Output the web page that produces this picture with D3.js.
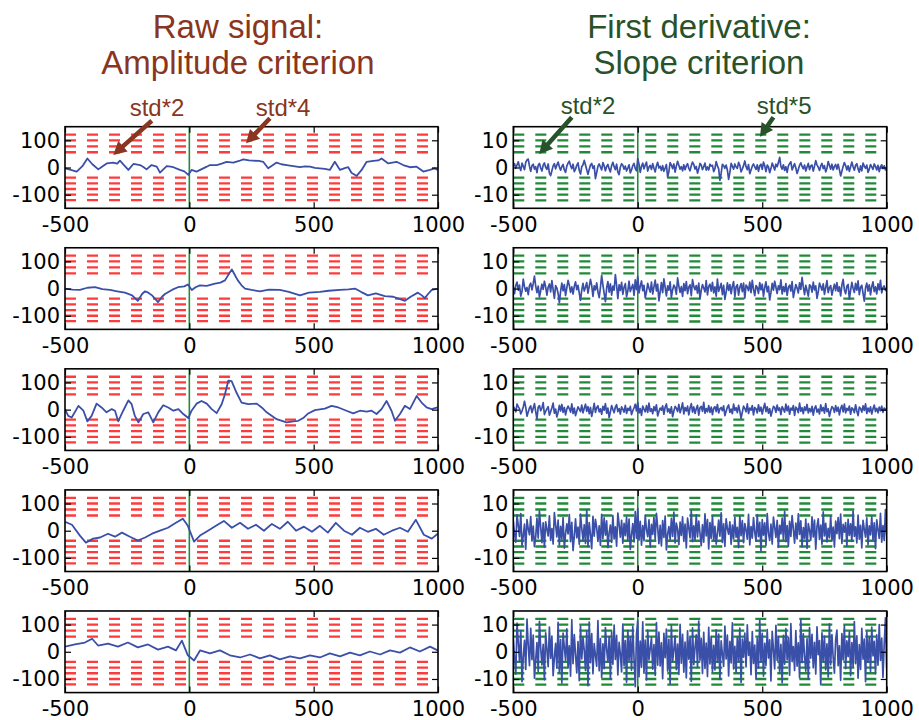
<!DOCTYPE html>
<html><head><meta charset="utf-8">
<script src="https://cdn.jsdelivr.net/npm/d3@7"></script>
<style>body{margin:0;background:#fff}</style>
</head><body><svg id="c" width="919" height="720"></svg>
<script>
// ---------- data ----------
const xTicks = [-500, 0, 500, 1000];
const yTicksRaw = [-100, 0, 100];
const yTicksDer = [-10, 0, 10];
const rawThrUp = [56, 78, 100, 121];
const rawThrDown = [-37, -58, -79, -100, -120];
const derThrUp = [5.6, 7.8, 10, 12.1];
const derThrDown = [-3.7, -5.8, -7.9, -10, -12.1];
const titlesLeft = ["Raw signal:", "Amplitude criterion"];
const titlesRight = ["First derivative:", "Slope criterion"];
const derStart = -500, derStep = 5;

// raw signals [time, value]
const L1 = [[-500,-3],[-480,-8],[-453,-15],[-430,5],[-410,33],[-390,12],[-366,-7],[-350,4],[-332,15],[-306,18],[-290,14],[-279,25],[-262,8],[-245,-9],[-225,13],[-198,9],[-185,2],[-172,-7],[-152,9],[-131,3],[-118,-19],[-91,5],[-75,3],[-64,1],[-38,-9],[-20,-14],[-4,-27],[9,-9],[29,-15],[56,-3],[70,3],[83,9],[110,9],[130,14],[150,21],[177,18],[200,24],[217,30],[240,26],[257,25],[280,24],[297,21],[317,-3],[335,8],[351,18],[370,12],[391,9],[418,5],[445,1],[465,4],[485,3],[505,-1],[525,-3],[545,-5],[565,-9],[585,21],[606,-9],[625,-2],[639,1],[652,-19],[673,-31],[693,-9],[713,21],[740,24],[760,26],[773,33],[800,15],[833,21],[860,9],[887,1],[914,3],[941,-15],[967,-9],[987,-3],[998,-9]];
const L2 = [[-500,0],[-470,-4],[-440,-5],[-410,3],[-379,5],[-350,-2],[-319,-5],[-290,-10],[-259,-15],[-230,-25],[-207,-45],[-190,-20],[-178,-10],[-165,-15],[-150,-25],[-126,-50],[-110,-30],[-98,-20],[-70,-5],[-46,5],[-20,8],[-6,15],[10,-5],[25,5],[43,12],[70,10],[103,18],[125,22],[143,30],[160,55],[171,70],[183,50],[195,30],[210,12],[224,0],[250,-5],[284,-10],[320,-4],[364,-5],[400,-12],[445,-25],[480,-15],[525,-12],[560,-8],[606,-5],[640,-3],[666,0],[690,-12],[718,-25],[750,-18],[786,-28],[820,-30],[845,-38],[867,-45],[890,-30],[919,-15],[935,-25],[947,-35],[960,-20],[975,-5],[999,0]];
const L3 = [[-500,2],[-487,-23],[-473,-29],[-446,14],[-426,-4],[-410,-43],[-393,-23],[-373,22],[-353,8],[-333,-10],[-312,2],[-299,-4],[-286,-43],[-266,-4],[-245,34],[-232,20],[-219,-23],[-205,-47],[-185,-16],[-165,-10],[-145,-47],[-125,-10],[-105,16],[-85,8],[-64,-4],[-44,2],[-27,-14],[-4,-31],[9,-4],[29,22],[49,32],[70,22],[90,2],[110,-13],[130,20],[143,56],[157,107],[170,105],[190,62],[210,26],[237,20],[271,22],[291,8],[311,-10],[351,-35],[391,-47],[418,-43],[438,-41],[458,-31],[478,-14],[505,-2],[545,4],[572,14],[599,8],[632,-4],[659,-14],[686,-4],[713,-7],[733,-4],[753,-16],[773,2],[793,32],[813,-4],[827,-41],[847,-16],[867,14],[887,2],[914,50],[934,26],[954,8],[974,2],[998,8]];
const L4 = [[-500,33],[-472,22],[-440,-18],[-416,-44],[-387,-29],[-359,-25],[-327,-11],[-299,-22],[-271,-7],[-239,-22],[-207,-36],[-178,-25],[-150,-11],[-118,0],[-86,11],[-54,29],[-26,44],[-6,18],[19,-40],[43,-18],[75,0],[107,18],[139,36],[171,11],[204,29],[236,7],[268,22],[300,0],[332,25],[364,7],[396,33],[429,0],[461,15],[493,-4],[525,18],[557,-7],[589,29],[622,0],[654,-15],[686,11],[718,-4],[750,7],[782,-15],[815,0],[847,11],[879,-4],[911,40],[943,-15],[975,-29],[999,-11]];
const L5 = [[-500,19],[-460,27],[-420,34],[-391,48],[-367,23],[-327,30],[-287,19],[-247,34],[-207,16],[-166,27],[-126,8],[-86,19],[-54,5],[-30,41],[-6,-13],[19,-32],[43,5],[83,-6],[123,5],[163,-13],[204,-21],[244,-10],[284,-24],[324,-13],[364,-28],[405,-17],[445,-24],[485,-13],[525,-21],[565,-6],[606,-17],[646,-3],[686,-13],[726,1],[767,-10],[807,5],[847,-3],[887,16],[927,1],[968,19],[999,5]];

// first derivative signals, sampled every derStep from derStart
const R1 = [
0.6,1.4,-0.3,0.9,2.1,0.2,-1.1,1.6,0.4,-0.8,1.9,2.8,3.1,0.5,-1.4,0.7,1.2,-0.6,0.3,-1.9,
0.8,1.5,-0.2,-1.3,0.9,1.7,0.1,-0.7,1.3,-2.1,-3.0,-1.2,0.6,1.4,-0.5,0.9,2.0,0.3,-1.0,0.4,
1.1,-0.9,-1.8,0.5,1.6,2.3,0.7,-0.4,1.2,-1.5,-0.6,0.8,1.7,-1.1,-2.4,0.3,1.0,2.6,0.9,-0.8,
-2.5,-0.7,0.9,1.5,-0.3,0.6,-4.1,-1.9,0.4,1.3,0.2,-0.9,1.8,0.6,-1.2,0.4,1.1,-0.5,-1.6,0.7,
1.9,0.3,-0.8,1.2,-1.7,-2.6,0.1,1.4,0.8,-0.6,0.5,-1.3,-0.2,1.0,-2.0,-0.9,0.7,1.5,-0.4,-1.2,
3.3,1.2,-1.8,0.4,1.6,-0.5,0.9,2.0,-1.3,0.2,0.8,-0.7,1.4,-0.3,-1.6,0.6,1.9,-0.2,0.5,-1.1,
0.7,-1.4,-0.2,1.1,-3.6,-1.5,1.8,0.9,-0.4,1.3,-1.7,0.5,2.3,0.8,-0.6,0.3,-1.2,1.0,-0.8,0.6,
1.4,-0.3,-1.2,0.7,2.0,1.1,-0.6,0.4,-2.1,-0.5,1.5,0.9,-0.8,0.3,1.6,-1.0,0.2,-0.9,1.2,0.5,
0.8,-1.5,-0.4,2.2,0.6,-0.5,-4.7,-2.2,1.2,0.7,-0.3,0.9,-1.0,-4.4,-1.8,1.5,0.4,-0.6,1.3,0.2,
-0.3,1.9,0.8,-1.6,-0.5,0.7,2.4,0.3,-0.8,1.1,-2.3,-0.9,0.5,1.3,0.2,-0.7,1.0,-1.4,0.6,1.2,
-0.7,2.0,0.6,-1.5,0.9,0.2,-1.9,-0.4,1.6,0.5,-0.9,1.2,0.3,1.8,3.7,0.4,-0.6,1.0,-1.1,0.3,
-1.8,0.6,1.4,2.1,-0.9,0.3,1.4,-0.2,-2.2,-0.7,0.8,1.7,0.4,-0.5,0.9,-1.3,0.2,1.5,-0.8,0.6,
0.9,-1.3,0.5,2.5,1.0,0.1,-1.1,0.6,1.5,-0.4,0.7,-1.6,-0.3,2.2,0.8,-0.6,1.2,-0.9,0.4,1.1,
-0.6,1.2,-0.8,-3.1,-1.4,0.4,1.8,0.7,-0.9,0.6,-1.4,0.3,2.0,0.3,-1.0,0.8,1.4,-0.5,-1.7,0.6,
-1.2,1.6,0.5,-0.3,0.9,-1.8,-0.6,1.1,0.2,-0.7,1.3,0.4,-0.9,0.8,-1.5,0.3,1.0,-0.4,0.6,-0.9,
-0.5];
const R2 = [
0.8,-1.9,1.2,2.4,-0.6,1.3,-2.8,-1.0,3.5,0.7,-1.0,0.4,-2.2,1.1,2.0,-0.5,1.8,4.6,0.9,-1.5,
0.9,-3.1,-0.8,1.6,-0.3,2.7,0.6,-2.4,0.5,1.7,-1.2,2.9,-0.4,-3.6,1.1,0.2,-1.8,-5.2,-1.0,2.0,
-0.8,1.5,-2.6,0.3,3.0,1.2,-1.4,0.6,-2.0,0.8,2.5,-0.4,1.2,-1.7,-4.3,-0.6,1.9,-0.9,0.5,2.2,
-1.7,0.8,3.4,1.1,-2.9,1.0,-0.5,2.1,-1.2,-3.3,0.4,4.9,1.3,-1.8,-4.8,0.2,2.6,-1.3,1.7,-2.4,
0.9,-0.6,5.1,1.2,-3.7,1.4,-0.7,2.3,-2.1,0.5,1.8,-3.0,-0.9,2.7,-1.1,0.3,1.5,-2.5,3.2,-0.4,
4.5,-1.6,0.9,2.8,-0.8,1.2,-3.4,-1.1,1.9,0.1,-1.3,2.4,-2.0,0.6,3.1,-0.9,1.6,-4.5,-1.2,2.2,
-1.5,3.6,0.4,-2.7,1.0,-0.6,2.5,-3.2,-0.5,1.3,0.4,-2.1,3.9,0.9,-1.4,0.7,-2.9,1.8,-0.8,2.6,
-1.9,0.5,1.4,-2.6,3.3,0.8,-0.4,1.1,-1.7,2.0,-3.8,-0.6,1.5,0.2,-1.2,2.9,-2.3,0.8,1.6,-0.9,
2.3,-1.6,0.6,-2.8,3.5,-1.0,0.4,1.9,-2.2,1.2,-4.0,-1.3,2.1,-0.7,1.5,-1.9,0.9,2.6,-3.1,0.7,
1.4,-2.4,0.5,1.8,-1.1,2.0,-3.5,1.3,0.6,-0.8,2.4,-1.5,3.0,-0.3,-2.6,1.1,0.4,-1.8,2.2,-0.5,
1.6,-2.9,0.3,2.5,-1.2,0.8,-4.2,-1.4,1.9,-0.6,2.7,0.5,-1.8,1.0,-0.4,3.2,-2.0,0.7,-1.1,1.8,
-2.5,0.4,1.3,-0.9,2.6,-3.3,-0.8,1.5,0.2,-1.6,2.1,-0.3,4.1,0.6,-2.2,1.2,-0.7,-2.8,1.4,0.9,
-1.3,2.4,-0.5,1.0,-3.6,-1.2,2.0,0.8,-0.6,1.7,-2.1,0.4,2.9,-1.5,0.3,1.1,-2.4,-0.2,1.6,-0.8,
2.2,-1.0,0.6,-2.7,1.3,3.4,-0.4,-1.9,0.9,1.5,-3.9,-0.7,2.3,0.1,-1.4,1.9,-0.6,2.8,-2.2,0.5,
1.2,-1.8,-4.6,0.3,2.0,-0.9,1.4,-2.3,0.7,2.5,-1.1,0.6,-2.0,1.7,-0.5,3.0,-1.6,0.4,1.0,-0.7,
0.3];
const R3 = [
1.2,0.4,-0.8,2.0,1.1,0.3,-1.6,-0.5,1.0,3.1,0.8,-2.4,-0.9,0.6,1.4,-1.1,0.5,2.2,-0.7,-3.5,
0.9,1.5,-0.4,0.6,2.6,-1.8,-0.6,0.3,1.1,-2.0,-0.8,0.7,2.4,-1.3,0.2,-2.7,-0.9,1.6,-0.5,1.9,
-1.0,0.8,-1.9,0.2,1.3,0.4,-0.9,2.1,-1.4,0.6,-2.2,-0.6,1.0,0.2,-0.7,1.7,-1.2,0.5,2.0,-0.6,
1.1,-1.5,0.8,-2.5,-0.3,2.3,-1.0,0.7,1.4,-0.8,0.3,-1.7,1.2,-0.2,2.2,-1.3,0.6,-2.9,-0.8,1.5,
0.1,-1.1,0.9,1.8,-0.7,0.4,-1.6,1.0,0.2,-0.9,1.6,-1.4,0.5,-0.3,1.2,-1.8,-0.4,0.7,2.0,-0.5,
2.6,-1.2,0.4,-2.1,1.3,0.2,-0.8,1.5,-1.0,2.4,-0.6,0.3,-1.5,1.1,-0.4,1.8,-2.3,-0.7,0.6,-0.2,
1.4,-1.7,0.9,2.1,-0.8,0.3,-1.3,1.0,-2.6,-0.5,1.2,0.5,-0.7,1.9,-1.1,0.4,2.5,-1.6,0.8,-0.5,
1.3,-1.9,0.6,2.2,-0.9,1.0,-1.4,0.3,1.6,-2.0,0.7,1.2,-0.6,2.7,-1.3,0.4,-0.8,1.5,-1.0,0.9,
-1.8,0.5,1.1,-0.7,1.9,-1.2,0.3,0.8,-0.4,1.4,-2.2,-0.6,0.9,1.7,-1.0,0.2,-1.5,2.0,-0.3,0.7,
-1.1,1.6,-0.5,-3.2,-0.9,1.3,0.4,-0.8,2.1,-1.4,0.6,-0.2,1.5,-1.9,0.8,0.3,-1.2,1.8,-0.6,0.9,
-1.6,0.5,2.3,-0.7,1.0,-1.3,0.4,-2.4,-0.5,1.2,0.8,-1.0,1.7,-0.3,0.6,-1.8,1.1,0.2,-0.9,2.0,
-0.4,1.3,-1.7,0.6,-0.2,1.5,-2.1,0.9,0.3,-1.1,2.4,-0.6,0.7,-1.5,1.0,-0.3,1.9,-1.2,0.4,-0.8,
1.2,-2.0,0.5,1.4,-0.9,0.2,-1.6,1.8,-0.5,0.8,-1.3,2.2,-0.7,0.3,-2.5,-0.4,1.1,0.6,-1.0,1.5,
-0.6,0.9,-1.9,0.4,1.6,-0.8,2.0,-1.2,0.5,-0.3,1.3,-1.7,0.7,0.2,-1.1,1.8,-0.5,-2.2,0.9,0.4,
-0.9,1.4,-0.3,2.1,-1.4,0.6,-0.8,1.0,-1.6,0.3,1.7,-0.7,0.5,-1.2,0.9,-0.4,1.3,-1.0,0.6,-0.2,
0.5];
const R4 = [
3.5,-1.2,-4.2,5.8,2.0,-2.1,6.3,-5.5,-1.8,2.4,-6.8,4.1,0.7,-1.5,5.2,-3.8,1.7,-5.9,-2.3,4.6,
-2.7,7.2,1.4,-4.4,2.9,-6.1,3.3,0.5,-1.9,5.5,-3.6,0.8,-4.9,6.7,2.2,-2.3,3.9,-5.2,1.6,-3.1,
4.8,-6.4,-1.1,2.5,-1.2,5.9,-4.0,3.1,-7.3,-2.0,4.4,-2.6,1.3,-5.0,6.1,0.9,-3.4,2.2,-4.7,7.6,
-5.8,3.0,-1.4,-6.6,5.3,-2.0,4.2,1.1,-3.9,1.8,-5.4,6.0,-2.9,4.7,-1.6,3.6,-6.2,-0.8,2.1,-4.3,
5.6,-3.0,1.4,-5.7,6.5,2.3,-2.4,3.8,-4.6,2.7,-1.8,5.0,-3.5,4.3,-6.9,-1.5,2.6,-4.1,7.0,-2.8,
8.2,-3.5,3.4,-5.3,1.9,-3.7,5.7,0.4,-2.2,4.0,-6.0,2.3,-1.4,4.9,-3.2,6.4,1.2,-4.8,2.0,-5.6,
3.7,-2.5,5.4,-7.1,-1.3,1.5,-3.3,4.5,-2.1,6.8,-4.5,2.8,0.6,-5.1,3.2,-1.7,5.1,-3.9,2.4,-6.3,
4.6,1.0,-2.6,7.4,-4.0,1.8,-3.4,5.8,-2.3,3.5,-0.9,-5.5,2.2,-4.2,6.2,-1.9,4.1,-6.7,3.0,-2.8,
5.5,-3.6,1.6,-4.9,-1.0,3.9,-2.0,6.6,-4.3,2.5,-5.8,4.4,0.8,-1.3,3.3,-5.0,2.1,-3.0,4.9,-2.4,
1.2,-6.2,5.3,-1.8,3.7,-4.4,2.6,0.3,-3.1,6.0,-5.2,1.5,-2.7,4.8,-0.6,-3.8,5.9,-2.2,3.1,-7.4,
4.1,-1.6,2.9,-5.3,6.3,-0.9,-3.6,2.4,-4.9,5.0,1.3,-2.5,3.8,-6.1,2.0,-1.2,4.6,-3.3,7.1,-4.0,
1.9,-5.7,3.4,-2.1,5.6,0.7,-4.6,2.8,-3.0,6.2,-1.4,3.6,-5.9,1.1,-2.8,4.3,-6.5,2.6,0.2,-3.5,
5.1,-2.3,3.9,-6.8,1.6,4.4,-3.2,2.1,-5.0,6.9,-1.9,2.7,-4.1,0.9,-2.6,5.4,-3.7,1.3,-6.0,3.5,
-1.1,4.8,-2.9,6.1,-4.7,2.3,-0.5,3.0,-5.6,4.2,-1.7,2.5,-3.9,7.3,-2.1,1.4,-4.5,5.7,-3.1,2.0,
-6.3,3.8,0.6,-2.4,4.7,-5.1,1.8,-1.5,5.2,-3.4,2.9,-6.6,4.0,0.4,-2.8,6.4,-4.2,1.9,-3.6,7.8,
-2.0];
const R5 = [
5.0,-2.1,-8.2,10.5,3.4,-3.6,7.8,-11.0,-1.9,4.2,-6.5,12.0,2.3,-5.1,8.6,-2.9,6.1,-9.7,-3.0,3.4,
-7.2,11.2,1.5,-4.8,2.7,-10.3,7.0,0.9,-5.5,9.1,-2.4,5.8,-8.8,-2.2,3.1,-6.0,10.8,-7.6,4.5,-11.5,
6.9,1.7,-3.2,8.4,-5.9,2.2,-9.0,11.8,-4.4,6.3,-1.0,-7.8,3.7,-10.6,9.5,-2.6,5.2,0.6,-6.9,7.6,
-12.5,10.9,-4.0,6.7,-8.1,3.0,-1.4,-5.3,11.5,-7.0,4.8,-9.4,2.9,-6.2,8.9,1.0,-3.8,5.6,-10.0,7.3,
-4.6,9.8,-2.8,6.0,-8.5,3.5,-0.8,-7.4,10.2,-5.0,4.1,-11.2,7.9,-3.3,5.4,-6.8,9.3,-2.5,-12.8,6.6,
11.5,-9.2,3.9,-5.7,11.0,-7.9,4.3,-10.4,8.0,-3.0,1.2,5.1,-6.4,2.6,-8.7,10.7,-4.9,7.2,-5.2,3.3,
-9.9,6.8,-2.2,8.3,-7.1,4.6,-11.8,9.6,-3.5,0.7,5.9,-6.6,2.8,-8.3,10.1,-4.2,6.4,-7.5,3.6,-9.6,
7.7,-2.7,5.3,-10.9,8.8,-4.7,1.5,6.2,-5.8,11.3,-3.1,4.9,-8.0,7.1,-6.1,3.2,-9.1,9.0,-4.5,5.7,
-7.3,2.4,-6.7,8.1,-3.9,6.5,-10.2,4.0,-0.9,-5.4,9.4,-2.6,6.1,-8.9,3.8,-4.1,10.6,-6.3,2.0,-7.7,
5.5,-3.4,8.7,-11.3,4.7,-2.0,6.9,-5.6,9.9,-1.3,3.6,-8.4,7.4,-4.3,2.5,-9.8,5.0,-6.0,11.6,-3.7,
6.8,-9.0,3.1,-5.0,8.2,-2.3,4.4,-10.7,7.5,0.8,-6.3,9.7,-3.2,5.6,-7.6,2.7,-11.4,6.0,-4.6,8.5,
-2.9,5.2,-8.6,10.4,-3.6,1.9,-6.9,7.8,-5.3,3.3,-9.5,11.9,-4.0,6.6,-1.6,-7.1,4.8,-10.1,8.9,-2.4,
6.4,-5.9,3.5,-8.2,9.2,-1.1,4.1,-12.1,7.0,-3.4,5.8,-6.7,2.9,-9.3,10.3,-4.8,6.3,-2.1,-7.9,4.5,
8.0,-5.1,2.2,-10.5,6.7,-3.0,9.6,-6.2,4.0,-1.8,7.3,-8.8,3.4,-5.5,11.1,-4.4,5.9,-9.7,2.6,-6.5,
8.6,-2.7,4.7,-11.0,7.4,-3.9,5.4,-7.2,9.1,-1.5,3.8,-8.1,6.2,-4.9,10.0,-3.2,5.0,-9.4,2.8,12.5,
-6.0];

const rawSignals = [L1, L2, L3, L4, L5];
const derSignals = [R1, R2, R3, R4, R5];

// annotations: [label, textX, textY, tailX, tailY, tipX, tipY] in data units of top panels
const annRaw = [["std*2", -130, 189, -151, 172, -306, 46], ["std*4", 377, 189, 324, 181, 228, 89]];
const annDer = [["std*2", -200, 19.5, -265, 18.5, -396, 5.0], ["std*5", 588, 19.5, 545, 18.5, 491, 11.3]];

// ---------- style ----------
const C = {
  brown: "#8a3520", green: "#28522a", red: "#ff3a3a", dgreen: "#218a3a",
  zero: "#22883a", sig: "#3a4fa8"
};
const layout = { top0: 126.7, rowStep: 121.07, h: 81.6, left: [65, 438], right: [513.3, 886.7] };

const svg = d3.select("#c");
const fmt = d => String(d);

function panel(r, col) {
  const top = layout.top0 + r * layout.rowStep;
  const xr = col === 0 ? layout.left : layout.right;
  const x = d3.scaleLinear([-500, 1000], xr);
  const y = d3.scaleLinear(col === 0 ? [-150, 150] : [-15, 15], [top + layout.h, top]);
  const g = svg.append("g");
  const up = col === 0 ? rawThrUp : derThrUp;
  const dn = col === 0 ? rawThrDown : derThrDown;
  const dcol = col === 0 ? C.red : C.dgreen;
  g.selectAll("line.thr").data(up.concat(dn)).join("line")
    .attr("x1", x(-500)).attr("x2", x(1000))
    .attr("y1", d => y(d)).attr("y2", d => y(d))
    .attr("stroke", dcol).attr("stroke-width", 2.3).attr("stroke-dasharray", "11,11");
  g.append("line").attr("x1", x(0)).attr("x2", x(0)).attr("y1", y.range()[0]).attr("y2", y.range()[1])
    .attr("stroke", C.zero).attr("stroke-width", 1.6);
  let pts;
  if (col === 0) pts = rawSignals[r];
  else pts = derSignals[r].map((v, i) => [derStart + i * derStep, v]);
  const clipId = `clip${r}_${col}`;
  g.append("clipPath").attr("id", clipId).append("rect")
    .attr("x", xr[0]).attr("y", top).attr("width", xr[1] - xr[0]).attr("height", layout.h);
  const line = d3.line().x(d => x(d[0])).y(d => y(d[1]));
  g.append("path").attr("d", line(pts)).attr("fill", "none").attr("clip-path", `url(#${clipId})`)
    .attr("stroke", C.sig).attr("stroke-width", col === 0 ? 1.8 : 1.7).attr("stroke-linejoin", "round");
  const yt = col === 0 ? yTicksRaw : yTicksDer;
  const fnt = sel => sel.selectAll("text").attr("font-family", "DejaVu Sans").attr("font-size", 21).attr("fill", "#000");
  const yl = g.append("g").attr("transform", `translate(${xr[0]},0)`)
    .call(d3.axisLeft(y).tickValues(yt).tickSize(-6).tickSizeOuter(0).tickPadding(5).tickFormat(fmt));
  fnt(yl);
  const yrA = g.append("g").attr("transform", `translate(${xr[1]},0)`)
    .call(d3.axisRight(y).tickValues(yt).tickSize(-6).tickSizeOuter(0).tickFormat(""));
  const xb = g.append("g").attr("transform", `translate(0,${top + layout.h})`)
    .call(d3.axisBottom(x).tickValues(xTicks).tickSize(-6).tickSizeOuter(0).tickPadding(9).tickFormat(fmt));
  fnt(xb);
  const xt = g.append("g").attr("transform", `translate(0,${top})`)
    .call(d3.axisTop(x).tickValues(xTicks).tickSize(-6).tickSizeOuter(0).tickFormat(""));
  [yl, yrA, xb, xt].forEach(a => { a.select(".domain").remove(); a.selectAll(".tick line").attr("stroke", "#000").attr("stroke-width", 1.2); });
  g.append("rect").attr("x", xr[0]).attr("y", top).attr("width", xr[1] - xr[0]).attr("height", layout.h)
    .attr("fill", "none").attr("stroke", "#000").attr("stroke-width", 1.6);
  return { x, y };
}

function arrow(x1, y1, x2, y2, color) {
  const dx = x2 - x1, dy = y2 - y1, L = Math.hypot(dx, dy);
  const ux = dx / L, uy = dy / L, hl = 13, hw = 7;
  const bx = x2 - ux * hl, by = y2 - uy * hl;
  svg.append("line").attr("x1", x1).attr("y1", y1).attr("x2", bx + ux * 2).attr("y2", by + uy * 2)
    .attr("stroke", color).attr("stroke-width", 4.5);
  svg.append("path").attr("d", `M${x2},${y2}L${bx - uy * hw},${by + ux * hw}L${bx + uy * hw},${by - ux * hw}Z`)
    .attr("fill", color);
}

let top0L, top0R;
for (let r = 0; r < 5; r++) {
  const a = panel(r, 0), b = panel(r, 1);
  if (r === 0) { top0L = a; top0R = b; }
}

[[titlesLeft, 238, C.brown], [titlesRight, 699, C.green]].forEach(([t, cx, col]) => {
  svg.selectAll(null).data(t).join("text")
    .attr("x", cx).attr("y", (d, i) => 38 + i * 36)
    .attr("text-anchor", "middle").attr("font-family", "Liberation Sans, Arial, sans-serif")
    .attr("font-size", 33).attr("fill", col).text(d => d);
});

[[annRaw, top0L, C.brown], [annDer, top0R, C.green]].forEach(([anns, s, col]) => {
  anns.forEach(a => {
    svg.append("text").attr("x", s.x(a[1])).attr("y", s.y(a[2])).attr("text-anchor", "middle")
      .attr("font-family", "Liberation Sans, Arial, sans-serif").attr("font-size", 24).attr("fill", col).text(a[0]);
    arrow(s.x(a[3]), s.y(a[4]), s.x(a[5]), s.y(a[6]), col);
  });
});
</script></body></html>
